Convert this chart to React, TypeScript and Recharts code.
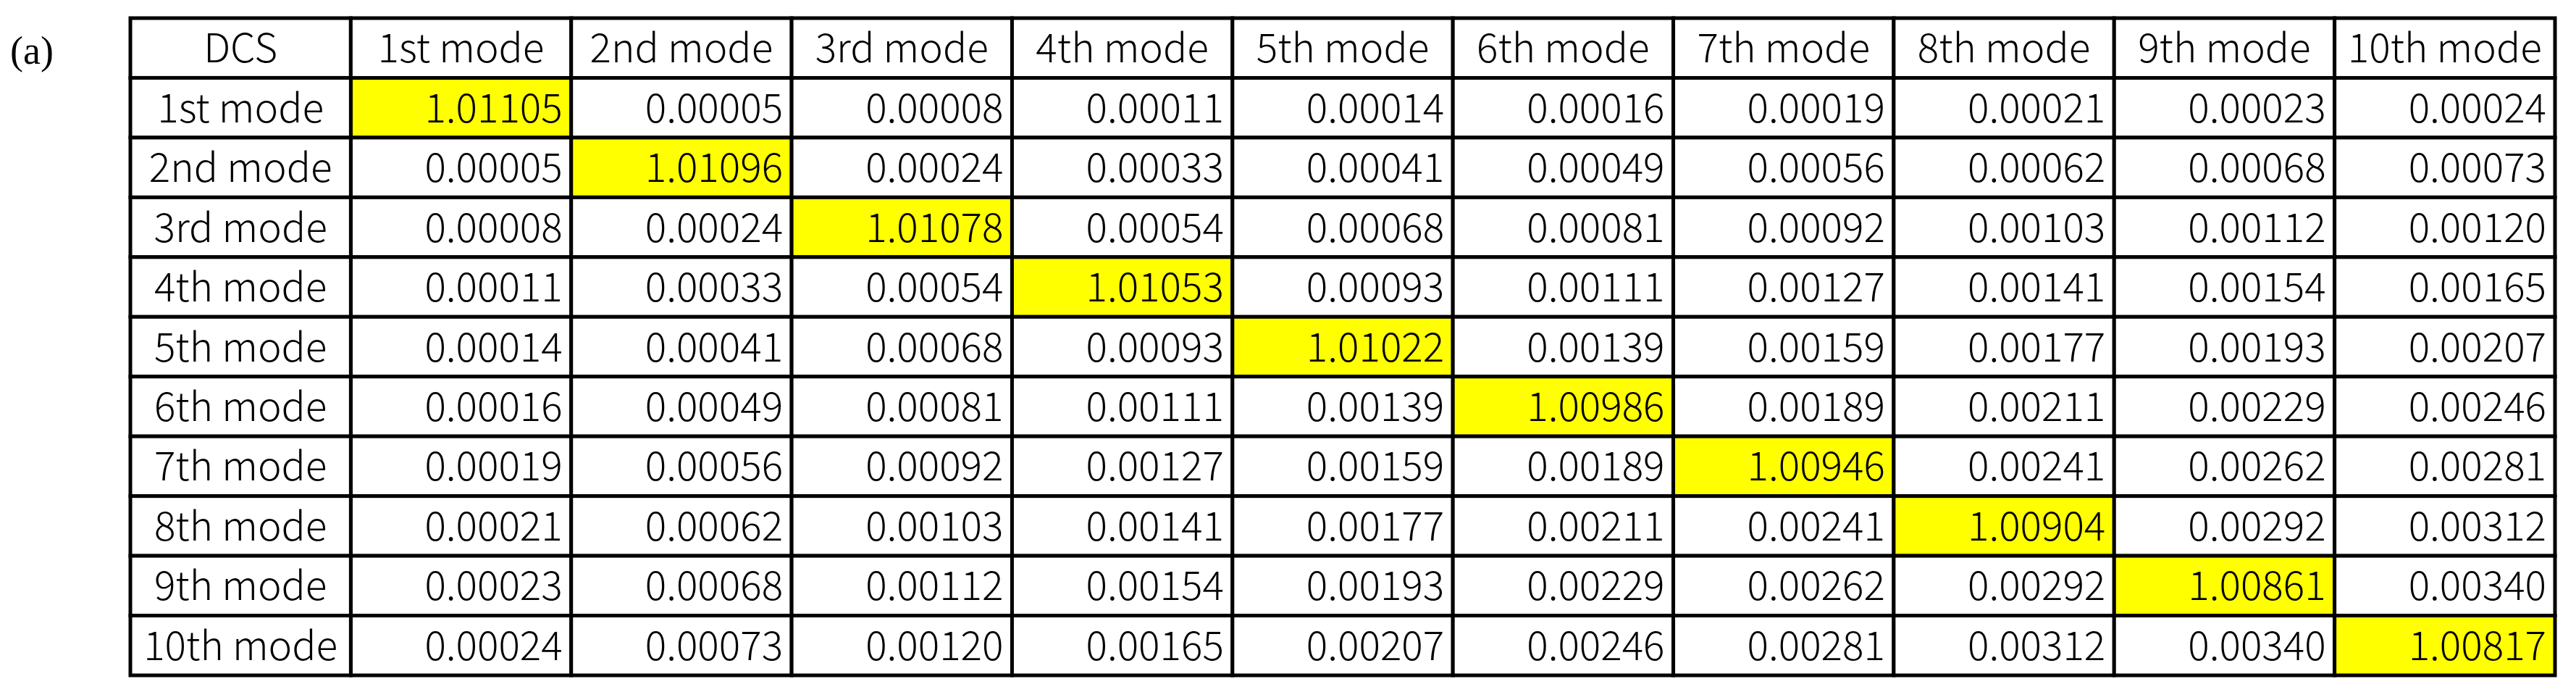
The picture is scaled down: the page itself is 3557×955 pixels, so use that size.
import { Label, Scatter, ScatterChart, XAxis, YAxis } from "recharts";

// table labels
const PANEL_TAG = "(a)";
const CORNER = "DCS";
const MODES = [
  "1st mode",
  "2nd mode",
  "3rd mode",
  "4th mode",
  "5th mode",
  "6th mode",
  "7th mode",
  "8th mode",
  "9th mode",
  "10th mode",
];

// one array per row of the DCS table
const MODE_1 = [1.01105, 0.00005, 0.00008, 0.00011, 0.00014, 0.00016, 0.00019, 0.00021, 0.00023, 0.00024];
const MODE_2 = [0.00005, 1.01096, 0.00024, 0.00033, 0.00041, 0.00049, 0.00056, 0.00062, 0.00068, 0.00073];
const MODE_3 = [0.00008, 0.00024, 1.01078, 0.00054, 0.00068, 0.00081, 0.00092, 0.00103, 0.00112, 0.0012];
const MODE_4 = [0.00011, 0.00033, 0.00054, 1.01053, 0.00093, 0.00111, 0.00127, 0.00141, 0.00154, 0.00165];
const MODE_5 = [0.00014, 0.00041, 0.00068, 0.00093, 1.01022, 0.00139, 0.00159, 0.00177, 0.00193, 0.00207];
const MODE_6 = [0.00016, 0.00049, 0.00081, 0.00111, 0.00139, 1.00986, 0.00189, 0.00211, 0.00229, 0.00246];
const MODE_7 = [0.00019, 0.00056, 0.00092, 0.00127, 0.00159, 0.00189, 1.00946, 0.00241, 0.00262, 0.00281];
const MODE_8 = [0.00021, 0.00062, 0.00103, 0.00141, 0.00177, 0.00211, 0.00241, 1.00904, 0.00292, 0.00312];
const MODE_9 = [0.00023, 0.00068, 0.00112, 0.00154, 0.00193, 0.00229, 0.00262, 0.00292, 1.00861, 0.0034];
const MODE_10 = [0.00024, 0.00073, 0.0012, 0.00165, 0.00207, 0.00246, 0.00281, 0.00312, 0.0034, 1.00817];

const ROWS = [MODE_1, MODE_2, MODE_3, MODE_4, MODE_5, MODE_6, MODE_7, MODE_8, MODE_9, MODE_10];

type CellDatum = { row: string; col: string; value: number };

const cells: CellDatum[] = ROWS.flatMap((values, i) =>
  values.map((value, j) => ({ row: MODES[i], col: MODES[j], value }))
);

const WIDTH = 3557;
const HEIGHT = 955;
const LEFT = 180;
const TOP = 25;
const RIGHT = 3528;
const BOTTOM = 932;
const CELL_W = (RIGHT - LEFT) / 11;
const CELL_H = (BOTTOM - TOP) / 11;
const LINE = 5;
const FONT = '"Noto Sans CJK KR", "Noto Sans", sans-serif';
const FONT_SIZE = 55;
const FONT_WEIGHT = 300;
const BASE = 20; // baseline offset from row centre
const HIGHLIGHT = "#ffff00";

function ValueCell(props: any) {
  const { cx, cy, payload } = props;
  if (cx == null || cy == null || !payload) return null;
  const onDiagonal = payload.row === payload.col;
  return (
    <g>
      <rect
        x={cx - CELL_W / 2}
        y={cy - CELL_H / 2}
        width={CELL_W}
        height={CELL_H}
        fill={onDiagonal ? HIGHLIGHT : "#ffffff"}
        stroke="#000"
        strokeWidth={LINE}
      />
      <text
        x={cx + CELL_W / 2 - 12}
        y={cy + BASE}
        textAnchor="end"
        fontFamily={FONT}
        fontSize={FONT_SIZE}
        fontWeight={FONT_WEIGHT}
        fill="#000"
      >
        {payload.value.toFixed(5)}
      </text>
    </g>
  );
}

function HeaderTick(props: any) {
  const { x, y, payload } = props;
  return (
    <g>
      <rect x={x - CELL_W / 2} y={y - CELL_H} width={CELL_W} height={CELL_H} fill="#fff" stroke="#000" strokeWidth={LINE} />
      <text
        x={x}
        y={y - CELL_H / 2 + BASE}
        textAnchor="middle"
        fontFamily={FONT}
        fontSize={FONT_SIZE}
        fontWeight={FONT_WEIGHT}
        fill="#000"
      >
        {payload.value}
      </text>
    </g>
  );
}

function RowTick(props: any) {
  const { x, y, payload } = props;
  return (
    <g>
      <rect x={x - CELL_W} y={y - CELL_H / 2} width={CELL_W} height={CELL_H} fill="#fff" stroke="#000" strokeWidth={LINE} />
      <text
        x={x - CELL_W / 2}
        y={y + BASE}
        textAnchor="middle"
        fontFamily={FONT}
        fontSize={FONT_SIZE}
        fontWeight={FONT_WEIGHT}
        fill="#000"
      >
        {payload.value}
      </text>
    </g>
  );
}

function CornerLabel(props: any) {
  const { x, y, width } = props.viewBox ?? {};
  if (x == null) return null;
  return (
    <g>
      <rect x={x} y={y - CELL_H} width={width} height={CELL_H} fill="#fff" stroke="#000" strokeWidth={LINE} />
      <text
        x={x + width / 2}
        y={y - CELL_H / 2 + BASE}
        textAnchor="middle"
        fontFamily={FONT}
        fontSize={FONT_SIZE}
        fontWeight={FONT_WEIGHT}
        fill="#000"
      >
        {CORNER}
      </text>
      <text x={14} y={88} fontFamily='"Liberation Serif", "Times New Roman", serif' fontSize={54} fill="#000">
        {PANEL_TAG}
      </text>
    </g>
  );
}

export default function App() {
  return (
    <div style={{ width: WIDTH, height: HEIGHT, background: "#fff" }}>
      <style>{"body{margin:0;background:#fff}"}</style>
      <ScatterChart
        width={WIDTH}
        height={HEIGHT}
        margin={{ top: TOP, right: WIDTH - RIGHT, bottom: HEIGHT - BOTTOM, left: LEFT }}
      >
        <XAxis
          type="category"
          dataKey="col"
          orientation="top"
          allowDuplicatedCategory={false}
          height={CELL_H}
          axisLine={false}
          tickLine={false}
          tickSize={0}
          tickMargin={0}
          interval={0}
          tick={<HeaderTick />}
        />
        <YAxis
          type="category"
          dataKey="row"
          allowDuplicatedCategory={false}
          reversed
          width={CELL_W}
          axisLine={false}
          tickLine={false}
          tickSize={0}
          tickMargin={0}
          interval={0}
          tick={<RowTick />}
        >
          <Label content={<CornerLabel />} />
        </YAxis>
        <Scatter data={cells} isAnimationActive={false} shape={<ValueCell />} />
      </ScatterChart>
    </div>
  );
}
